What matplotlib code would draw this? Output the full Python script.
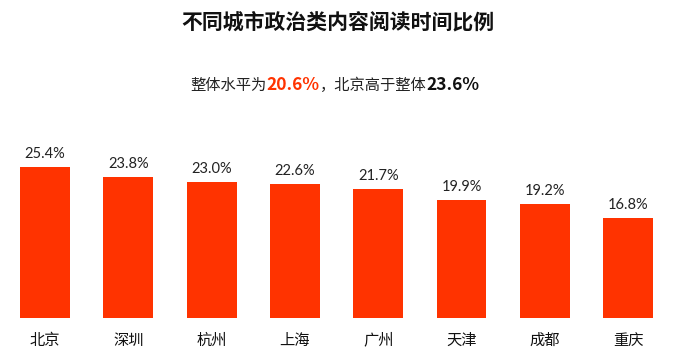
import matplotlib
matplotlib.use('Agg')
import matplotlib.pyplot as plt

plt.rcParams['font.family'] = ['Noto Sans CJK SC', 'DejaVu Sans']

# Data
cities = ['北京', '深圳', '杭州', '上海', '广州', '天津', '成都', '重庆']
shares = [25.4, 23.8, 23.0, 22.6, 21.7, 19.9, 19.2, 16.8]
title = '不同城市政治类内容阅读时间比例'
subtitle_parts = [('整体水平为', '#222222', 'normal', 11),
                  ('20.6%', '#FF3300', 'bold', 12.5),
                  ('，北京高于整体', '#222222', 'normal', 11),
                  ('23.6%', '#111111', 'bold', 12.5)]

bar_color = '#FF3300'

fig = plt.figure(figsize=(6.82, 3.61), dpi=100)
W, H = 682, 361

# axes placed in pixel terms: baseline at y=318, bars pitch ~83.3px
ax = fig.add_axes([0, (H - 318) / H, 1, (318 - 100) / H])
pitch = 83.3
x0 = 45
ax.set_xlim(-x0 / pitch, (W - x0) / pitch)
ax.set_ylim(0, 218 / 5.93)

xs = range(len(cities))
ax.bar(xs, shares, width=0.6, color=bar_color)

for x, v in zip(xs, shares):
    ax.text(x, v + 1.0, f'{v:.1f}%', ha='center', va='bottom',
            fontsize=10.5, color='#222222', family=['Lato', 'DejaVu Sans'])

ax.axis('off')

# city labels below bars
for x, c in zip(xs, cities):
    px = (x0 + x * pitch) / W
    fig.text(px, 1 - 340 / H, c, ha='center', va='center', fontsize=11, color='#111111')

# title
fig.text(0.495, 1 - 22 / H, title, ha='center', va='center',
         fontsize=15, fontweight='bold', color='#111111')

# subtitle built from pieces
renderer = fig.canvas.get_renderer()
texts = []
for s, col, wt, fs in subtitle_parts:
    t = fig.text(0, 1 - 85 / H, s, ha='left', va='center', fontsize=fs,
                 color=col, fontweight=wt)
    texts.append(t)
widths = [t.get_window_extent(renderer).width for t in texts]
total = sum(widths)
start = 335 - total / 2
for t, w in zip(texts, widths):
    t.set_x(start / W)
    start += w

fig.savefig('out.png', dpi=100)
